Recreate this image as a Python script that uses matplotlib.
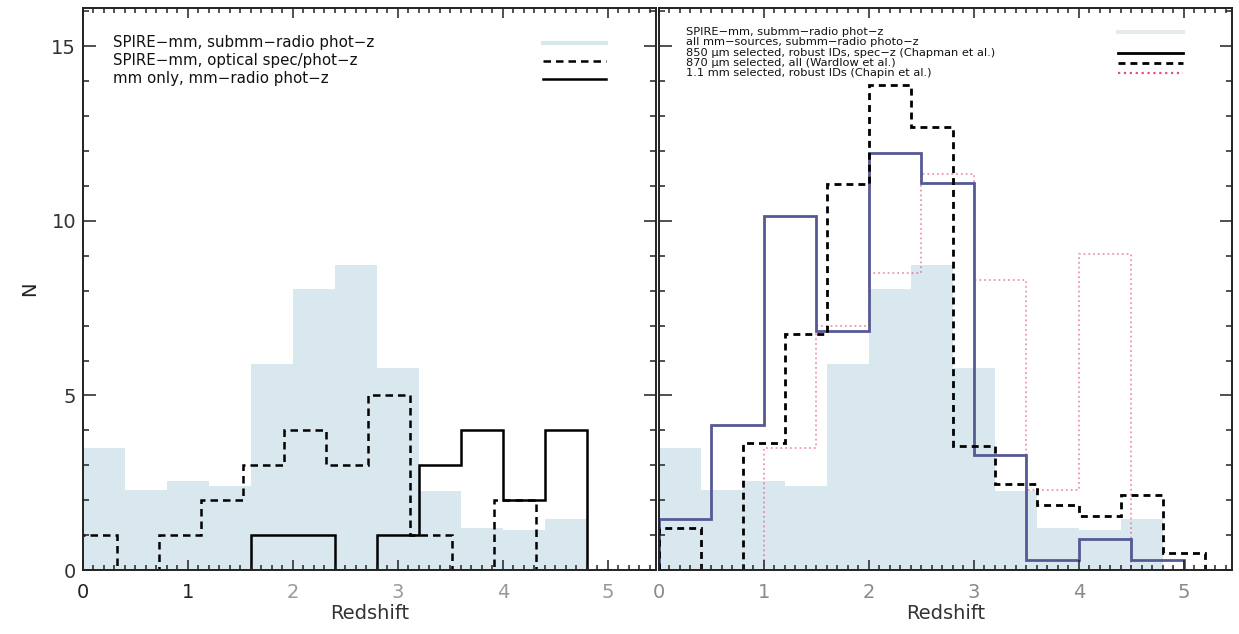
import matplotlib
matplotlib.use("Agg")
import matplotlib.pyplot as plt
from matplotlib.ticker import MultipleLocator

# --- data (bin edges and counts) ---
# SPIRE-mm, submm-radio phot-z (shaded, both panels)
fill_edges = [0.0, 0.4, 0.8, 1.2, 1.6, 2.0, 2.4, 2.8, 3.2, 3.6, 4.0, 4.4, 4.8]
fill_counts = [3.5, 2.3, 2.55, 2.4, 5.9, 8.05, 8.75, 5.8, 2.25, 1.2, 1.15, 1.45]

# SPIRE-mm, optical spec/phot-z (left, dashed)
opt_edges = [-0.08, 0.32, 0.72, 1.12, 1.52, 1.92, 2.32, 2.72, 3.12, 3.52, 3.92, 4.32]
opt_counts = [1, 0, 1, 2, 3, 4, 3, 5, 1, 0, 2]

# mm only, mm-radio phot-z (left, solid)
mm_edges = [1.6, 2.0, 2.4, 2.8, 3.2, 3.6, 4.0, 4.4, 4.8]
mm_counts = [1, 1, 0, 1, 3, 4, 2, 4]

# 850 um, Chapman et al. (right, solid)
chap_edges = [0.0, 0.5, 1.0, 1.5, 2.0, 2.5, 3.0, 3.5, 4.0, 4.5, 5.0]
chap_counts = [1.45, 4.15, 10.15, 6.85, 11.95, 11.1, 3.3, 0.3, 0.9, 0.3]

# 870 um, Wardlow et al. (right, dashed)
ward_edges = [0.0, 0.4, 0.8, 1.2, 1.6, 2.0, 2.4, 2.8, 3.2, 3.6, 4.0, 4.4, 4.8, 5.2]
ward_counts = [1.2, 0, 3.65, 6.75, 11.05, 13.9, 12.7, 3.55, 2.45, 1.85, 1.55, 2.15, 0.5]

# 1.1 mm, Chapin et al. (right, dotted)
chapin_edges = [0.5, 1.0, 1.5, 2.0, 2.5, 3.0, 3.5, 4.0, 4.5]
chapin_counts = [0, 3.5, 7.0, 8.5, 11.35, 8.3, 2.3, 9.05]

left_labels = ["SPIRE\u2212mm, submm\u2212radio phot\u2212z",
               "SPIRE\u2212mm, optical spec/phot\u2212z",
               "mm only, mm\u2212radio phot\u2212z"]
right_labels = ["SPIRE\u2212mm, submm\u2212radio phot\u2212z",
                "all mm\u2212sources, submm\u2212radio photo\u2212z",
                "850 \u00b5m selected, robust IDs, spec\u2212z (Chapman et al.)",
                "870 \u00b5m selected, all (Wardlow et al.)",
                "1.1 mm selected, robust IDs (Chapin et al.)"]

FILL = "#d9e7ef"
CHAP = "#555a94"
PINK = "#e4507c"

fig = plt.figure(figsize=(12.39, 6.34), dpi=100)
ax1 = fig.add_axes([83 / 1239, 64 / 634, 573 / 1239, 562 / 634])
ax2 = fig.add_axes([659 / 1239, 64 / 634, 573 / 1239, 562 / 634], sharey=ax1)

for ax in (ax1, ax2):
    ax.stairs(fill_counts, fill_edges, fill=True, color=FILL, lw=0)

ax1.stairs(opt_counts, opt_edges, color="black", lw=1.8, ls=(0, (3, 2)))
ax1.stairs(mm_counts, mm_edges, color="black", lw=1.8)

ax2.stairs(chapin_counts, chapin_edges, color=PINK, lw=1.3, ls=":", alpha=0.6)
ax2.stairs(chap_counts, chap_edges, color=CHAP, lw=2.0)
ax2.stairs(ward_counts, ward_edges, color="black", lw=2.0, ls=(0, (2.5, 1.8)))

for ax in (ax1, ax2):
    ax.set_xlim(0, 5.46)
    ax.set_ylim(0, 16.1)
    ax.xaxis.set_major_locator(MultipleLocator(1))
    ax.xaxis.set_minor_locator(MultipleLocator(0.1))
    ax.yaxis.set_major_locator(MultipleLocator(5))
    ax.yaxis.set_minor_locator(MultipleLocator(1))
    ax.tick_params(which="both", direction="in", top=True, right=True,
                   color="#222222", width=1.1)
    ax.tick_params(axis="x", which="major", length=7, pad=9, labelsize=14)
    ax.tick_params(axis="x", which="minor", length=3.5)
    ax.tick_params(axis="y", which="major", length=9, pad=5, labelsize=14)
    ax.tick_params(axis="y", which="minor", length=4)
    for s in ax.spines.values():
        s.set_linewidth(1.4)
        s.set_color("#222222")
    ax.set_xlabel("Redshift", fontsize=14, labelpad=2, color="#333333")

ax2.tick_params(axis="y", labelleft=False)
ax1.set_ylabel("N", fontsize=14, labelpad=9, color="#222222")

# faded scan: later tick labels look grey
for i, t in enumerate(ax1.get_xticklabels()):
    t.set_color("#222222" if i < 3 else "#999999")
for t in ax2.get_xticklabels():
    t.set_color("#8a8a8a")
for t in ax1.get_yticklabels():
    t.set_color("#333333")

# legends, text on the left and line sample on the right
left_styles = [dict(color=FILL, lw=3), dict(color="black", lw=1.8, ls=(0, (3, 2))),
               dict(color="black", lw=1.8)]
left_rows = [0.938, 0.906, 0.874]
for lab, y, st in zip(left_labels, left_rows, left_styles):
    ax1.text(0.052, y, lab, transform=ax1.transAxes, fontsize=10.8,
             va="center", ha="left", color="#111111")
    ax1.plot([0.803, 0.913], [y, y], transform=ax1.transAxes, **st)

right_styles = [dict(color="#e4eaee", lw=3), None, dict(color="black", lw=2.0),
                dict(color="black", lw=2.0, ls=(0, (2.5, 1.8))),
                dict(color=PINK, lw=1.6, ls=":")]
right_rows = [0.957, 0.939, 0.920, 0.902, 0.884]
for lab, y, st in zip(right_labels, right_rows, right_styles):
    ax2.text(0.047, y, lab, transform=ax2.transAxes, fontsize=8.2,
             va="center", ha="left", color="#111111")
    if st is not None:
        ax2.plot([0.801, 0.914], [y, y], transform=ax2.transAxes, **st)

fig.savefig("out.png", dpi=100)
